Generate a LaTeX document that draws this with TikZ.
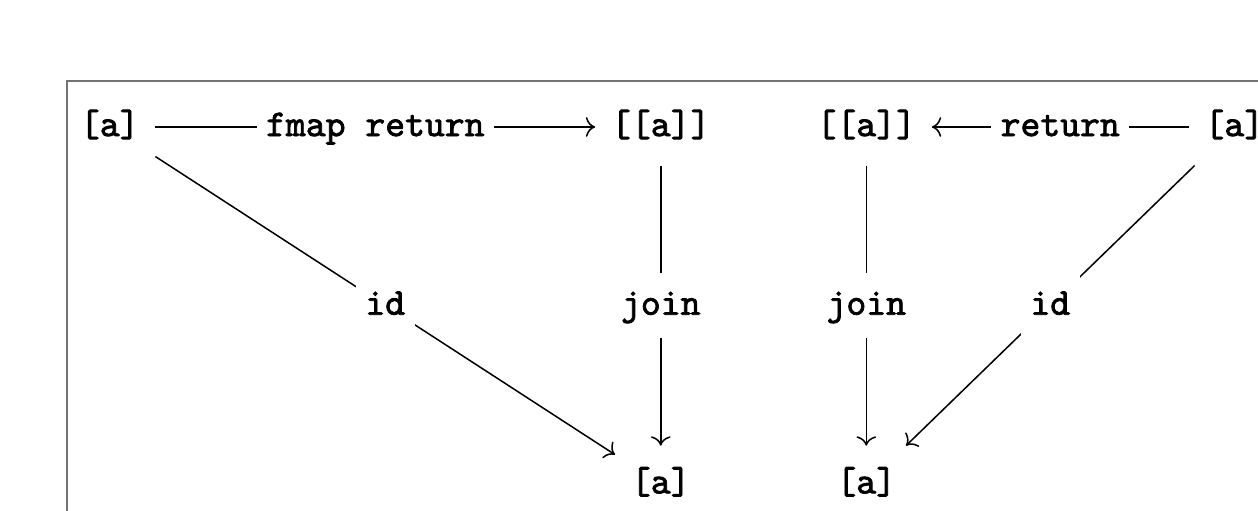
\documentclass[tikz,border=0pt]{standalone}
\usepackage{fontspec}
\newfontfamily\cdtt{Latin Modern Mono}[FakeBold=2]
\usetikzlibrary{arrows.meta}
\begin{document}
\begin{tikzpicture}[>={Computer Modern Rightarrow},
	obj/.style={font=\cdtt,inner sep=4pt,text height=8.4pt,text depth=3.6pt},
	lab/.style={font=\cdtt,fill=white,inner xsep=2.5pt,inner ysep=2.5pt,text height=8.4pt,text depth=3.6pt}]
	\useasboundingbox (0,0) rectangle (11.69,-4.74);
	\draw[black!55,line width=0.5pt] (0.62,-5) -- (0.62,-0.75) -- (12,-0.75);
	\node[obj] (a1) at (1.02,-1.18) {[a]};
	\node[obj] (b1) at (6.14,-1.18) {[[a]]};
	\node[obj] (b2) at (8.05,-1.18) {[[a]]};
	\node[obj] (a2) at (11.47,-1.18) {[a]};
	\node[obj] (c1) at (6.14,-4.5) {[a]};
	\node[obj] (c2) at (8.05,-4.5) {[a]};
	\draw[->] (a1) -- node[lab] (l1) {fmap return} (b1);
	\draw[->] (a2) -- node[lab] (l2) {return} (b2);
	\draw[->] (a1) -- node[lab] (l3) {id} (c1);
	\draw[->] (b1) -- node[lab] (l4) {join} (c1);
	\draw[->] (b2) -- node[lab] (l5) {join} (c2);
	\draw[->] (a2) -- node[lab] (l6) {id} (c2);
\end{tikzpicture}
\end{document}
